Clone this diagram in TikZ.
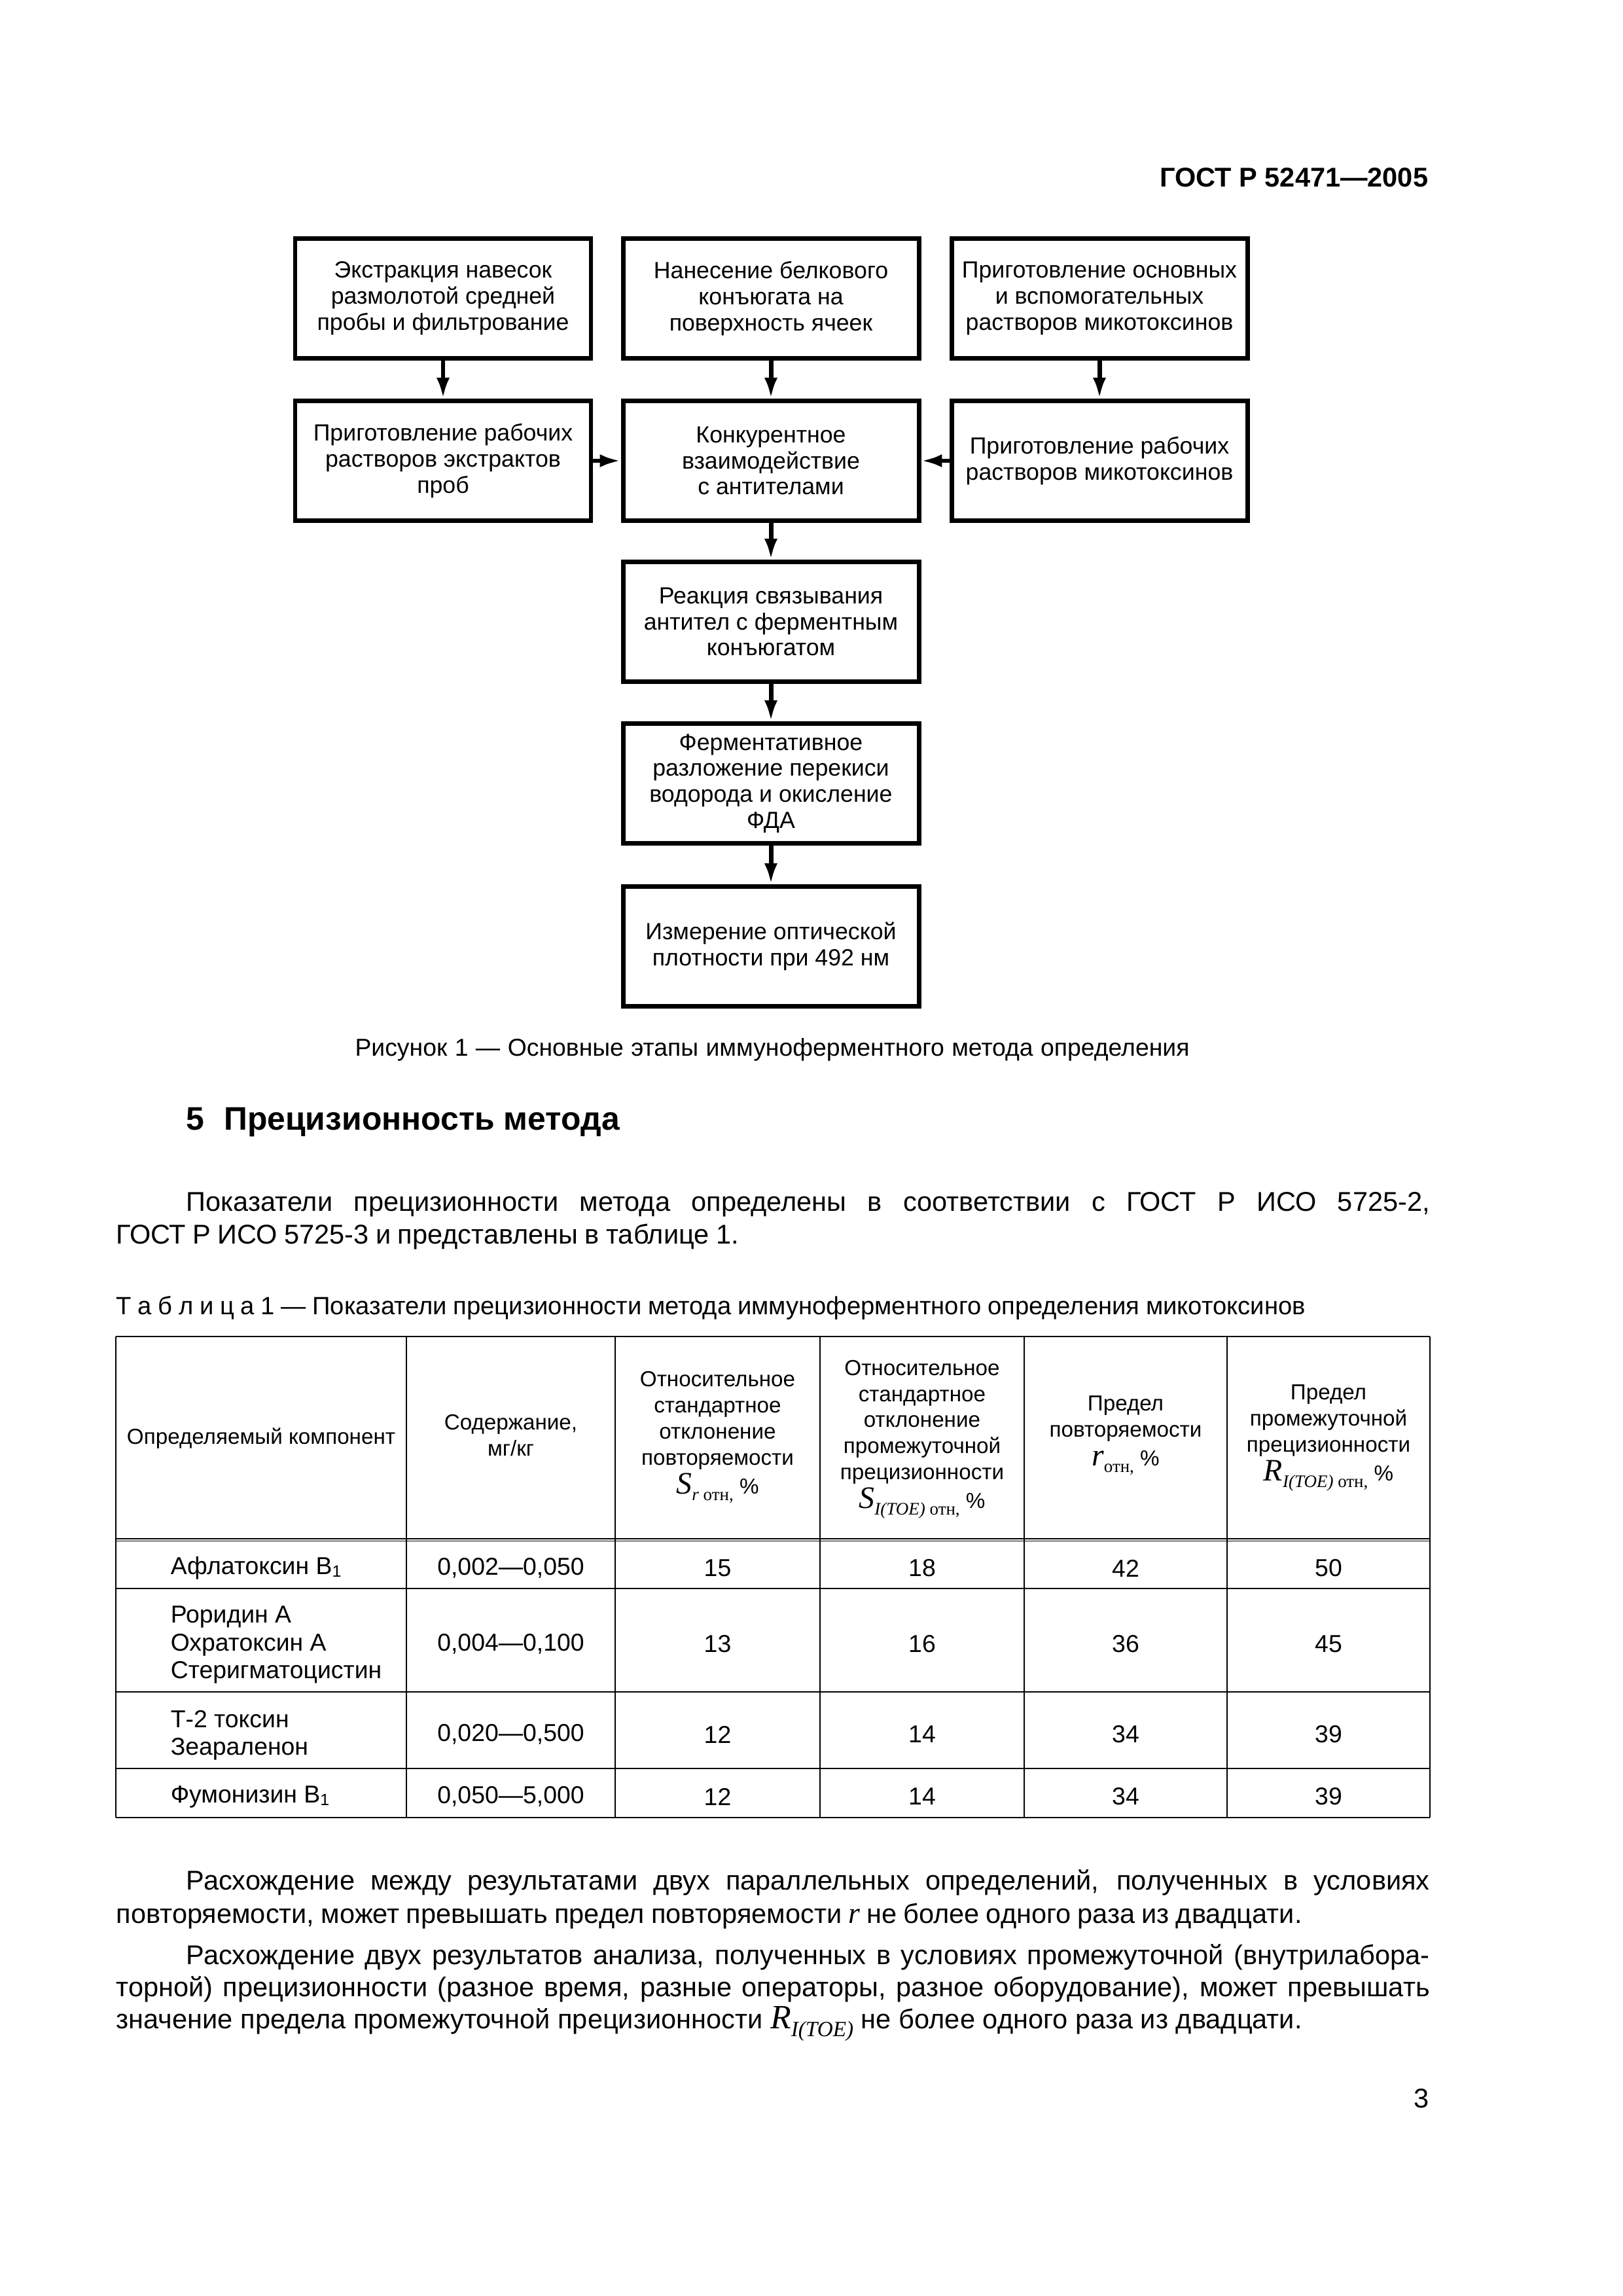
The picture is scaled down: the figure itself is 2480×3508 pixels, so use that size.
\documentclass[tikz,border=0pt]{standalone}
\usepackage{fontspec}
\setmainfont{Liberation Sans}
\newfontfamily\tnr{Liberation Serif}
\usetikzlibrary{arrows.meta}
\newdimen\pxu \pxu=0.0846667mm
\newcommand\lowsub[1]{\raisebox{-0.55ex}{#1}}
\newcommand\subf{\tnr\fontsize{6.5}{6.5}\selectfont}
\newcommand\bigi{\tnr\itshape\fontsize{11.5}{11.5}\selectfont}
\newcommand\Srotn{{\bigi S}\lowsub{\subf\textit{r}~отн,}~\%}
\newcommand\SIotn{{\bigi S}\lowsub{\subf\textit{I(TOE)}~отн,}~\%}
\newcommand\rotn{{\bigi r}\lowsub{\subf отн,}~\%}
\newcommand\RIotn{{\bigi R}\lowsub{\subf\textit{I(TOE)}~отн,}~\%}
\newcommand\lineto[2]{\hbox to #1\pxu{\spaceskip=0.27em plus 0.6em minus 0.15em\relax #2}}
\tikzset{
  box/.style={draw, line width=1.68pt, minimum width=38.27mm, minimum height=15.49mm,
    inner sep=0pt, align=center, font=\fontsize{8.6}{9.6}\selectfont},
  flow/.style={-{Latex[length=2.7mm,width=1.7mm]}, line width=1.68pt},
  tline/.style={line width=0.35pt},
  hdr/.style={align=center, inner sep=0pt, font=\fontsize{8}{9.6}\selectfont},
  cell/.style={inner sep=0pt, font=\fontsize{9}{10.2}\selectfont},
  body/.style={anchor=base west, inner sep=0pt, font=\fontsize{10}{12}\selectfont},
}
\begin{document}
\begin{tikzpicture}[x=0.0846667mm, y=-0.0846667mm]
\useasboundingbox (0,0) rectangle (2480,3508);

% header
\node[anchor=base east, inner sep=0pt, font=\fontsize{10}{12}\selectfont\bfseries] (gost) at (2183,285) {ГОСТ Р 52471—2005};

% flowchart boxes
\node[box] (b1) at (677,456) {Экстракция навесок\\размолотой средней\\пробы и фильтрование};
\node[box] (b2) at (1178,456) {Нанесение белкового\\конъюгата на\\поверхность ячеек};
\node[box] (b3) at (1680,456) {Приготовление основных\\и вспомогательных\\растворов микотоксинов};
\node[box] (b4) at (677,704) {Приготовление рабочих\\растворов экстрактов\\проб};
\node[box] (b5) at (1178,704) {Конкурентное\\взаимодействие\\с антителами};
\node[box] (b6) at (1680,704) {Приготовление рабочих\\растворов микотоксинов};
\node[box] (b7) at (1178,950) {Реакция связывания\\антител с ферментным\\конъюгатом};
\node[box] (b8) at (1178,1197) {Ферментативное\\разложение перекиси\\водорода и окисление\\ФДА};
\node[box] (b9) at (1178,1446) {Измерение оптической\\плотности при 492 нм};

\draw[flow] (b1) -- (b4);
\draw[flow] (b2) -- (b5);
\draw[flow] (b3) -- (b6);
\draw[flow] (b4) -- (b5);
\draw[flow] (b6) -- (b5);
\draw[flow] (b5) -- (b7);
\draw[flow] (b7) -- (b8);
\draw[flow] (b8) -- (b9);

% figure caption
\node[anchor=base, inner sep=0pt, font=\fontsize{9}{11}\selectfont] (figcap) at (1180,1613)
  {\lineto{1275}{Рисунок 1 — Основные этапы иммуноферментного метода определения}};

% section title
\node[anchor=base west, inner sep=0pt, font=\fontsize{12}{14}\selectfont\bfseries] (sec) at (284,1726)
  {5\hspace{0.6em}Прецизионность метода};

% paragraph 1
\node[body] (p1a) at (284,1850) {\lineto{1900}{Показатели прецизионности метода определены в соответствии с ГОСТ Р ИСО 5725-2,}};
\node[body] (p1b) at (177,1900) {\lineto{951}{ГОСТ Р ИСО 5725-3 и представлены в таблице 1.}};

% table caption
\node[anchor=base west, inner sep=0pt, font=\fontsize{9.2}{11}\selectfont] (tcap) at (177,2008)
  {\lineto{1817}{Т а б л и ц а 1 — Показатели прецизионности метода иммуноферментного определения микотоксинов}};

% table lines
\foreach \yy in {2042,2351,2354.5,2427,2585,2702,2777}
  \draw[tline] (177,\yy) -- (2185,\yy);
\foreach \xx in {177,621,940,1253,1565,1875,2185}
  \draw[tline] (\xx,2042) -- (\xx,2777);

% header cells
\node[hdr] (h1) at (399,2198) {Определяемый компонент};
\node[hdr] (h2) at (780.5,2193) {Содержание,\\мг/кг};
\node[hdr] (h3) at (1096.5,2196) {Относительное\\стандартное\\отклонение\\повторяемости\\[1pt]\Srotn};
\node[hdr] (h4) at (1409,2199) {Относительное\\стандартное\\отклонение\\промежуточной\\прецизионности\\[1pt]\SIotn};
\node[hdr] (h5) at (1720,2193) {Предел\\повторяемости\\[1pt]\rotn};
\node[hdr] (h6) at (2030,2197) {Предел\\промежуточной\\прецизионности\\[1pt]\RIotn};

% data rows
\node[cell, anchor=west, align=left] (c11) at (260,2396) {Афлатоксин B\textsubscript{1}};
\node[cell, anchor=west, align=left] (c21) at (260,2513) {Роридин А\\Охратоксин А\\Стеригматоцистин};
\node[cell, anchor=west, align=left] (c31) at (260,2651) {Т-2 токсин\\Зеараленон};
\node[cell, anchor=west, align=left] (c41) at (260,2745) {Фумонизин B\textsubscript{1}};

\node[cell] (c12) at (780.5,2396) {0,002—0,050};
\node[cell] (c22) at (780.5,2512) {0,004—0,100};
\node[cell] (c32) at (780.5,2650) {0,020—0,500};
\node[cell] (c42) at (780.5,2745) {0,050—5,000};

\node[cell] (c13) at (1096.5,2396) {15};
\node[cell] (c14) at (1409,2396) {18};
\node[cell] (c15) at (1720,2396) {42};
\node[cell] (c16) at (2030,2396) {50};
\node[cell] (c23) at (1096.5,2512) {13};
\node[cell] (c24) at (1409,2512) {16};
\node[cell] (c25) at (1720,2512) {36};
\node[cell] (c26) at (2030,2512) {45};
\node[cell] (c33) at (1096.5,2650) {12};
\node[cell] (c34) at (1409,2650) {14};
\node[cell] (c35) at (1720,2650) {34};
\node[cell] (c36) at (2030,2650) {39};
\node[cell] (c43) at (1096.5,2745) {12};
\node[cell] (c44) at (1409,2745) {14};
\node[cell] (c45) at (1720,2745) {34};
\node[cell] (c46) at (2030,2745) {39};

% paragraphs 2 and 3
\node[body] (p2a) at (284,2887) {\lineto{1900}{Расхождение между результатами двух параллельных определений, полученных в условиях}};
\node[body] (p2b) at (177,2938) {\lineto{1812}{повторяемости, может превышать предел повторяемости {\tnr\itshape\fontsize{11}{11}\selectfont r} не более одного раза из двадцати.}};
\node[body] (p3a) at (284,3001) {\lineto{1900}{Расхождение двух результатов анализа, полученных в условиях промежуточной (внутрилабора-}};
\node[body] (p3b) at (177,3050) {\lineto{2007}{торной) прецизионности (разное время, разные операторы, разное оборудование), может превышать}};
\node[body] (p3c) at (177,3099) {\lineto{1812}{значение предела промежуточной прецизионности {\tnr\itshape\fontsize{12.5}{12.5}\selectfont R}\lowsub{\tnr\itshape\fontsize{8}{8}\selectfont I(TOE)} не более одного раза из двадцати.}};

% page number
\node[anchor=base east, inner sep=0pt, font=\fontsize{10}{12}\selectfont] (pnum) at (2184,3220) {3};
\end{tikzpicture}
\end{document}
